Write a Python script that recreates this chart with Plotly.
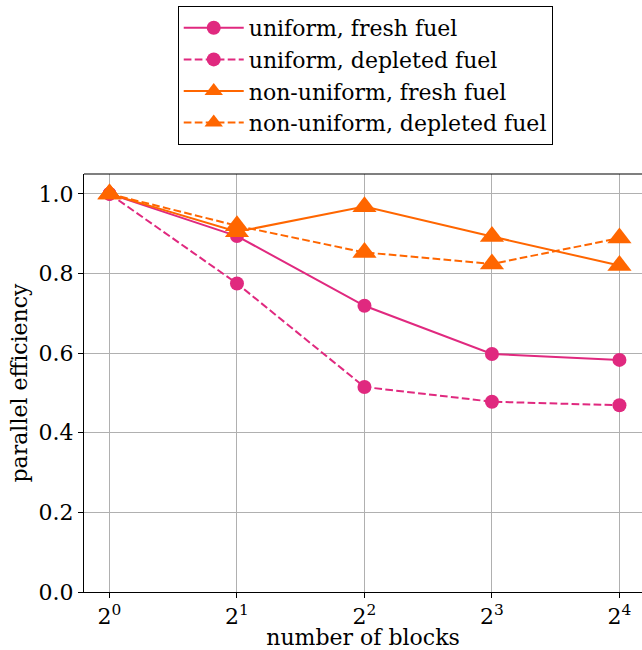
import plotly.graph_objects as go
import math

blocks = [1, 2, 4, 8, 16]
tick_labels = ["2<sup>0</sup>", "2<sup>1</sup>", "2<sup>2</sup>", "2<sup>3</sup>", "2<sup>4</sup>"]
uniform_fresh = [1.0, 0.894, 0.719, 0.598, 0.583]
uniform_depleted = [1.0, 0.775, 0.515, 0.478, 0.469]
nonuniform_fresh = [1.0, 0.905, 0.968, 0.893, 0.820]
nonuniform_depleted = [1.0, 0.920, 0.853, 0.824, 0.889]
y_ticks = [0.0, 0.2, 0.4, 0.6, 0.8, 1.0]

PINK = "#e0297f"
ORANGE = "#ff6600"
FONT = "DejaVu Serif"
FS = 22
DASH = "7.7px,3.3px"

fig = go.Figure()
series = [
    ("uniform, fresh fuel", uniform_fresh, PINK, "solid", "circle", 14),
    ("uniform, depleted fuel", uniform_depleted, PINK, DASH, "circle", 14),
    ("non-uniform, fresh fuel", nonuniform_fresh, ORANGE, "solid", "triangle-up", 21),
    ("non-uniform, depleted fuel", nonuniform_depleted, ORANGE, DASH, "triangle-up", 21),
]
for name, ys, col, dash, sym, size in series:
    fig.add_trace(go.Scatter(
        x=blocks, y=ys, name=name, mode="lines+markers",
        line=dict(color=col, width=2, dash=dash),
        marker=dict(color=col, symbol=sym, size=size, line=dict(width=0)),
    ))

L, T, B = 83.5, 174, 58
W, H = 642, 650
fig.update_layout(
    width=W, height=H,
    margin=dict(l=L, r=0, t=T, b=B, pad=0),
    paper_bgcolor="white", plot_bgcolor="white",
    font=dict(family=FONT, size=FS, color="black"),
    showlegend=True,
    legend=dict(
        x=0.504, xanchor="center", yref="container", y=1 - 6 / H, yanchor="top",
        bordercolor="black", borderwidth=1, bgcolor="white",
        font=dict(family=FONT, size=FS),
        itemwidth=60,
    ),
    xaxis=dict(
        type="log",
        range=[-0.2 * math.log10(2), 4.177 * math.log10(2)],
        tickvals=blocks, ticktext=tick_labels,
        showgrid=True, gridcolor="#b0b0b0", gridwidth=1.1,
        showline=True, linecolor="black", linewidth=1.1, mirror=False,
        ticks="outside", ticklen=5, tickwidth=1.1, tickcolor="black",
        title=dict(text="number of blocks", font=dict(family=FONT, size=FS), standoff=5),
        zeroline=False,
    ),
    yaxis=dict(
        range=[0, 1.05],
        tickvals=y_ticks, ticktext=[f"{v:.1f}" for v in y_ticks],
        showgrid=True, gridcolor="#b0b0b0", gridwidth=1.1,
        showline=True, linecolor="black", linewidth=1.1, mirror=False,
        ticks="outside", ticklen=5, tickwidth=1.1, tickcolor="black",
        title=dict(text="parallel efficiency", font=dict(family=FONT, size=FS), standoff=4),
        zeroline=False,
    ),
)
fig.add_shape(type="line", xref="paper", yref="paper", x0=0, x1=1, y0=1, y1=1,
              line=dict(color="black", width=1.1))
fig.write_html("out.html")
